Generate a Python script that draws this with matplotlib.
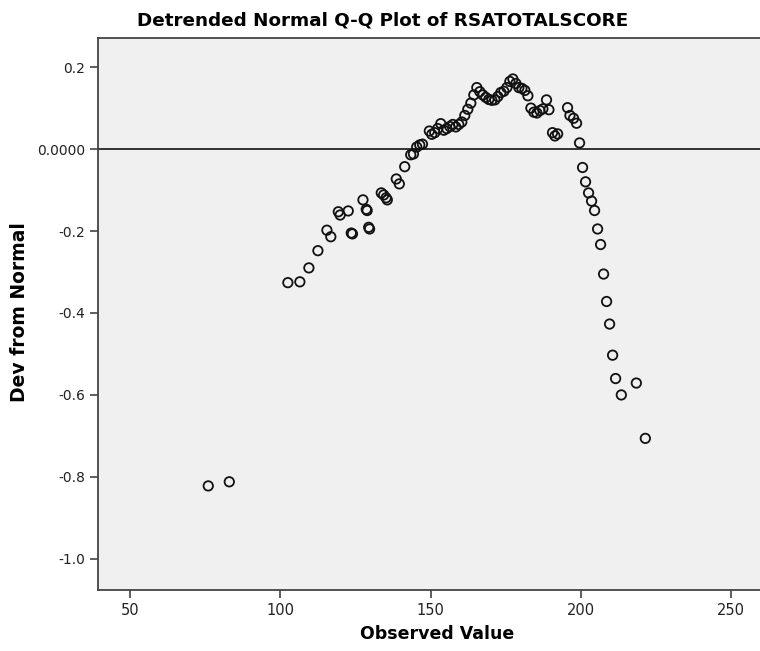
import numpy as np
import matplotlib
matplotlib.use('Agg')
import matplotlib.pyplot as plt

observed = [76, 83, 102.5, 106.5, 109.5, 112.5, 115.5, 116.8, 119.3, 119.9, 122.6, 123.6, 124.0,
            127.5, 128.6, 128.9, 129.4, 129.7, 133.6, 134.4, 135.2, 135.6, 138.6, 139.6, 141.4,
            143.4, 144.3, 145.4, 146.4, 147.3, 149.6, 150.4, 151.4, 152.4, 153.4, 154.4, 155.4,
            156.4, 157.4, 158.4, 159.4, 160.4, 161.4, 162.4, 163.4, 164.4, 165.4, 166.4, 167.4,
            168.4, 169.4, 170.4, 171.4, 172.4, 173.4, 174.4, 175.4, 176.4, 177.4, 178.4, 179.4,
            180.4, 181.4, 182.4, 183.4, 184.4, 185.4, 186.4, 187.4, 188.6, 189.4, 190.6, 191.4,
            192.3, 195.6, 196.4, 197.6, 198.6, 199.6, 200.6, 201.6, 202.6, 203.6, 204.6, 205.6,
            206.6, 207.6, 208.6, 209.6, 210.6, 211.6, 213.5, 218.5, 221.5]
deviation = [-0.822, -0.812, -0.326, -0.324, -0.290, -0.248, -0.198, -0.214, -0.153, -0.161,
             -0.151, -0.205, -0.207, -0.124, -0.147, -0.150, -0.191, -0.195, -0.107, -0.112,
             -0.119, -0.124, -0.073, -0.085, -0.043, -0.014, -0.012, 0.005, 0.010, 0.012,
             0.044, 0.036, 0.040, 0.050, 0.062, 0.046, 0.050, 0.055, 0.060, 0.054, 0.060,
             0.066, 0.082, 0.097, 0.112, 0.132, 0.150, 0.140, 0.132, 0.126, 0.121, 0.119,
             0.120, 0.128, 0.138, 0.141, 0.150, 0.165, 0.171, 0.160, 0.150, 0.148, 0.143,
             0.130, 0.100, 0.090, 0.088, 0.094, 0.098, 0.120, 0.096, 0.040, 0.032, 0.037,
             0.101, 0.082, 0.075, 0.063, 0.015, -0.045, -0.080, -0.107, -0.127, -0.150,
             -0.195, -0.233, -0.305, -0.372, -0.427, -0.503, -0.560, -0.600, -0.571, -0.706]

x_ticks = [50, 100, 150, 200, 250]
y_ticks = [0.2, 0.0, -0.2, -0.4, -0.6, -0.8, -1.0]
y_tick_labels = ['0.2', '0.0000', '-0.2', '-0.4', '-0.6', '-0.8', '-1.0']

fig = plt.figure(figsize=(7.6, 6.51), dpi=100)
ax = fig.add_axes([98 / 760, 1 - 590 / 651, (761 - 98) / 760, (590 - 38) / 651])
ax.set_facecolor('#f0f0f0')

ax.axhline(0, color='#333333', linewidth=1.4, zorder=1)
ax.scatter(observed, deviation, s=46, facecolors='none', edgecolors='#111111',
           linewidths=1.3, zorder=2)

ax.set_xlim(39.3, 260)
ax.set_ylim(-1.076, 0.271)

ax.set_xticks(x_ticks)
ax.set_xticklabels([str(t) for t in x_ticks], fontsize=10.5)
ax.set_yticks(y_ticks)
ax.set_yticklabels(y_tick_labels, fontsize=10)
ax.tick_params(direction='out', length=6, width=1.1, color='#333333', labelcolor='#222222')

for side in ['left', 'bottom', 'top', 'right']:
    ax.spines[side].set_color('#444444')
    ax.spines[side].set_linewidth(1.3)

fig.text(383 / 760, 1 - 20 / 651, 'Detrended Normal Q-Q Plot of RSATOTALSCORE',
         ha='center', va='center', fontweight='bold', fontsize=13.2)
fig.text(437 / 760, 1 - 634 / 651, 'Observed Value', ha='center', va='center',
         fontweight='bold', fontsize=12.5)
fig.text(20 / 760, 1 - 312 / 651, 'Dev from Normal', ha='center', va='center',
         rotation=90, fontweight='bold', fontsize=13.5)

fig.savefig('out.png', dpi=100)
